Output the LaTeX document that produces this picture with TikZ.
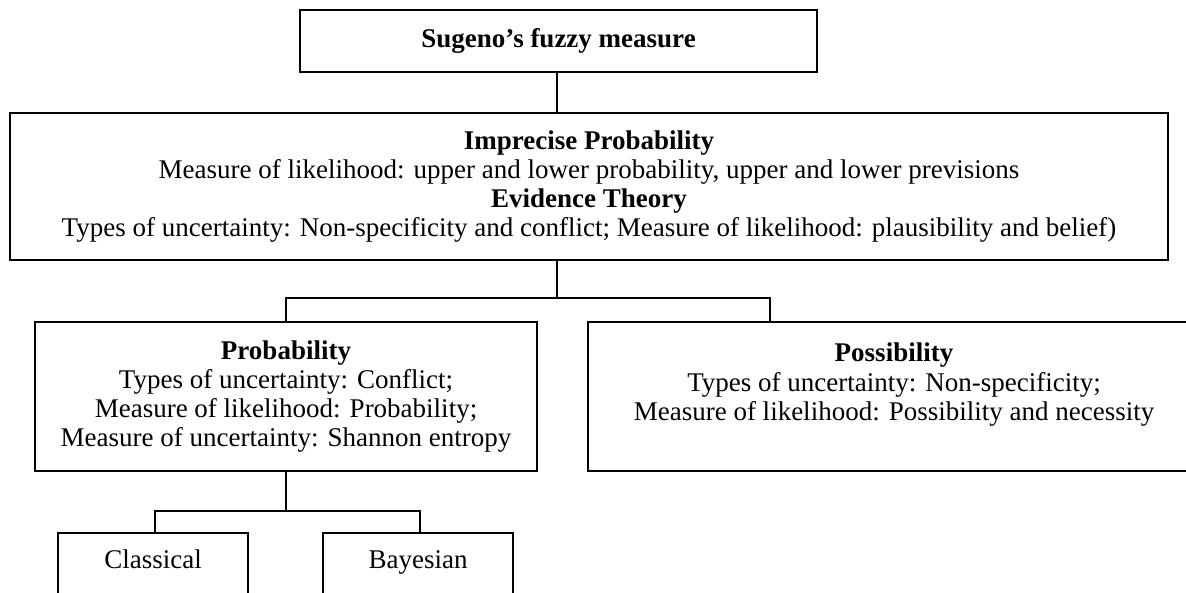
\documentclass[tikz,border=0pt]{standalone}
\usepackage{fontspec}
\setmainfont{Liberation Serif}
\begin{document}
\begin{tikzpicture}[x=1pt,y=-1pt,
  box/.style={draw, line width=1.6pt, rectangle, inner sep=0pt, align=center,
    font=\fontsize{27}{29.3}\selectfont},
  link/.style={line width=1.6pt}]
\useasboundingbox (0,0) rectangle (1186,592);
\fill[white] (0,0) rectangle (1186,592);

% boxes
\node[box, minimum width=517, minimum height=62] (top) at (558.5,41)
  {\textbf{Sugeno’s fuzzy measure}};
\node[box, minimum width=1158, minimum height=147] (mid) at (589,186.5)
  {\textbf{Imprecise Probability}\\
   Measure of likelihood: upper and lower probability, upper and lower previsions\\
   \textbf{Evidence Theory}\\
   Types of uncertainty: Non-specificity and conflict; Measure of likelihood: plausibility and belief)};
\node[box, minimum width=502, minimum height=149] (prob) at (286,396.5)
  {\textbf{Probability}\\
   Types of uncertainty: Conflict;\\
   Measure of likelihood: Probability;\\
   Measure of uncertainty: Shannon entropy};
\node[box, minimum width=612, minimum height=149] (poss) at (894,396.5)
  {\textbf{Possibility}\\
   Types of uncertainty: Non-specificity;\\
   Measure of likelihood: Possibility and necessity\\ \mbox{}};
\node[box, anchor=north, minimum width=190, text height=36, text depth=60] (cls) at (153,532)
  {Classical};
\node[box, anchor=north, minimum width=190, text height=36, text depth=60] (bay) at (418,532)
  {Bayesian};

% junction points of the tree
\coordinate (j1) at (557,298);
\coordinate (pl) at (286,298);
\coordinate (pr) at (770,298);
\coordinate (j2) at (286,511);
\coordinate (cl) at (155,511);
\coordinate (cr) at (420,511);

% connectors
\draw[link] (top.south -| j1) -- (mid.north -| j1);
\draw[link] (mid.south -| j1) -- (j1);
\draw[link] (prob.north -| pl) -- (pl) -- (pr) -- (poss.north -| pr);
\draw[link] (prob.south -| j2) -- (j2);
\draw[link] (cls.north -| cl) -- (cl) -- (cr) -- (bay.north -| cr);
\end{tikzpicture}
\end{document}
